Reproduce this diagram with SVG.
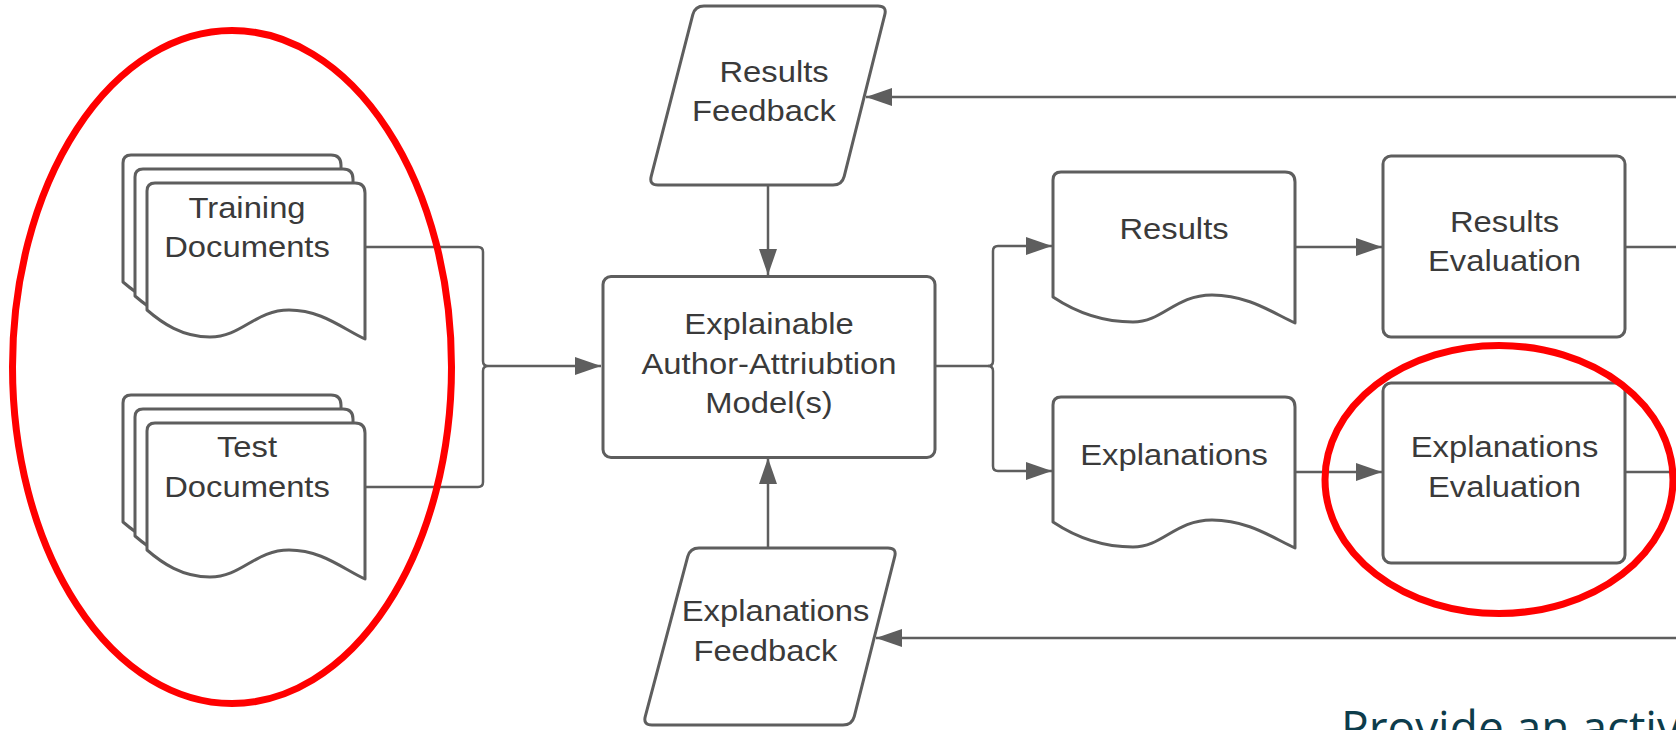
<svg xmlns="http://www.w3.org/2000/svg" xmlns:xlink="http://www.w3.org/1999/xlink" width="1676" height="730" viewBox="0 0 1676 730">
<style>
.shape{fill:#fff;stroke:#5e5e5e;stroke-width:3;stroke-linejoin:round}
.conn{fill:none;stroke:#5e5e5e;stroke-width:2.5}
.lbl{font-family:"Liberation Sans",Arial,sans-serif;font-size:29px;fill:#3a3a3a;text-anchor:middle}
.hl{fill:none;stroke:#ff0000;stroke-width:7}
.note{font-family:"Open Sans","Noto Sans",sans-serif;font-size:46px;fill:#0d3c4b}
</style>
<defs>
<marker id="arr" viewBox="0 0 26 18" refX="26" refY="9" markerWidth="26" markerHeight="18" markerUnits="userSpaceOnUse" orient="auto">
<path d="M0,0 L26,9 L0,18 Z" fill="#5e5e5e"/>
</marker>
<path id="docS" d="M0,8 Q0,0 8,0 H208 Q218,0 218,10 V156 C196,146 175,127 142,127 C108,127 95,154 63,154 C35,154 15,140 0,127 Z"/>
<path id="docL" d="M0,8 Q0,0 8,0 H232 Q242,0 242,10 V151 C220,141 195,123 159,123 C122,123 110,150 80,150 C45,150 18,137 0,125 Z"/>
</defs>
<rect width="1676" height="730" fill="#fff"/>

<g id="connectors">
<path class="conn" d="M365,247 H478 Q483,247 483,252 V361 Q483,366 488,366 Q483,366 483,371 V482 Q483,487 478,487 H365"/>
<path class="conn" d="M488,366 H601" marker-end="url(#arr)"/>
<path class="conn" d="M768,185 V275" marker-end="url(#arr)"/>
<path class="conn" d="M768,548 V458" marker-end="url(#arr)"/>
<path class="conn" d="M935,366 H988 Q993,366 993,361 V251 Q993,246 998,246 H1052" marker-end="url(#arr)"/>
<path class="conn" d="M988,366 Q993,366 993,371 V466 Q993,471 998,471 H1052" marker-end="url(#arr)"/>
<path class="conn" d="M1295,247 H1382" marker-end="url(#arr)"/>
<path class="conn" d="M1295,472 H1382" marker-end="url(#arr)"/>
<path class="conn" d="M1625,247 H1676"/>
<path class="conn" d="M1625,472 H1676"/>
<path class="conn" d="M1676,97 H866" marker-end="url(#arr)"/>
<path class="conn" d="M1676,638 H876" marker-end="url(#arr)"/>
</g>

<g id="training-docs">
<use xlink:href="#docS" class="shape" x="123" y="155"/>
<use xlink:href="#docS" class="shape" x="135" y="169"/>
<use xlink:href="#docS" class="shape" x="147" y="183"/>
<g transform="translate(247 0) scale(1.13 1)">
<text class="lbl" x="0" y="218">Training</text>
<text class="lbl" x="0" y="257">Documents</text>
</g>
</g>

<g id="test-docs">
<use xlink:href="#docS" class="shape" x="123" y="395"/>
<use xlink:href="#docS" class="shape" x="135" y="409"/>
<use xlink:href="#docS" class="shape" x="147" y="423"/>
<g transform="translate(247 0) scale(1.13 1)">
<text class="lbl" x="0" y="457">Test</text>
<text class="lbl" x="0" y="497">Documents</text>
</g>
</g>

<g id="model">
<rect class="shape" x="603" y="276.5" width="332" height="181" rx="8"/>
<g transform="translate(769 0) scale(1.13 1)">
<text class="lbl" x="0" y="334">Explainable</text>
<text class="lbl" x="0" y="374">Author-Attriubtion</text>
<text class="lbl" x="0" y="413">Model(s)</text>
</g>
</g>

<g id="results-feedback">
<path class="shape" d="M704,6 H878 Q887,6 884.8,14.7 L844.2,176.3 Q842,185 833,185 H658 Q649,185 651.2,176.3 L692.8,14.7 Q695,6 704,6 Z"/>
<g transform="scale(1.13 1)">
<text class="lbl" x="685" y="82">Results</text>
<text class="lbl" x="676" y="121">Feedback</text>
</g>
</g>

<g id="explanations-feedback">
<path class="shape" d="M699,548 H888 Q897,548 894.7,556.7 L854.3,716.3 Q852,725 843,725 H652 Q643,725 645.3,716.3 L687.7,556.7 Q690,548 699,548 Z"/>
<g transform="scale(1.13 1)">
<text class="lbl" x="686.3" y="621">Explanations</text>
<text class="lbl" x="677.3" y="661.5">Feedback</text>
</g>
</g>

<g id="results">
<use xlink:href="#docL" class="shape" x="1053" y="172"/>
<g transform="translate(1174 0) scale(1.13 1)">
<text class="lbl" x="0" y="239">Results</text>
</g>
</g>

<g id="explanations">
<use xlink:href="#docL" class="shape" x="1053" y="397"/>
<g transform="translate(1174 0) scale(1.13 1)">
<text class="lbl" x="0" y="465">Explanations</text>
</g>
</g>

<g id="results-evaluation">
<rect class="shape" x="1383" y="156" width="242" height="181" rx="8"/>
<g transform="translate(1504.5 0) scale(1.13 1)">
<text class="lbl" x="0" y="232">Results</text>
<text class="lbl" x="0" y="271">Evaluation</text>
</g>
</g>

<g id="explanations-evaluation">
<rect class="shape" x="1383" y="383" width="242" height="180" rx="8"/>
<g transform="translate(1504.5 0) scale(1.13 1)">
<text class="lbl" x="0" y="457">Explanations</text>
<text class="lbl" x="0" y="497">Evaluation</text>
</g>
</g>

<g id="highlights">
<ellipse class="hl" cx="232" cy="367" rx="219.5" ry="336.5"/>
<ellipse class="hl" cx="1499" cy="479.5" rx="174" ry="134"/>
</g>

<text class="note" x="1341" y="744">Provide an activ</text>
</svg>
